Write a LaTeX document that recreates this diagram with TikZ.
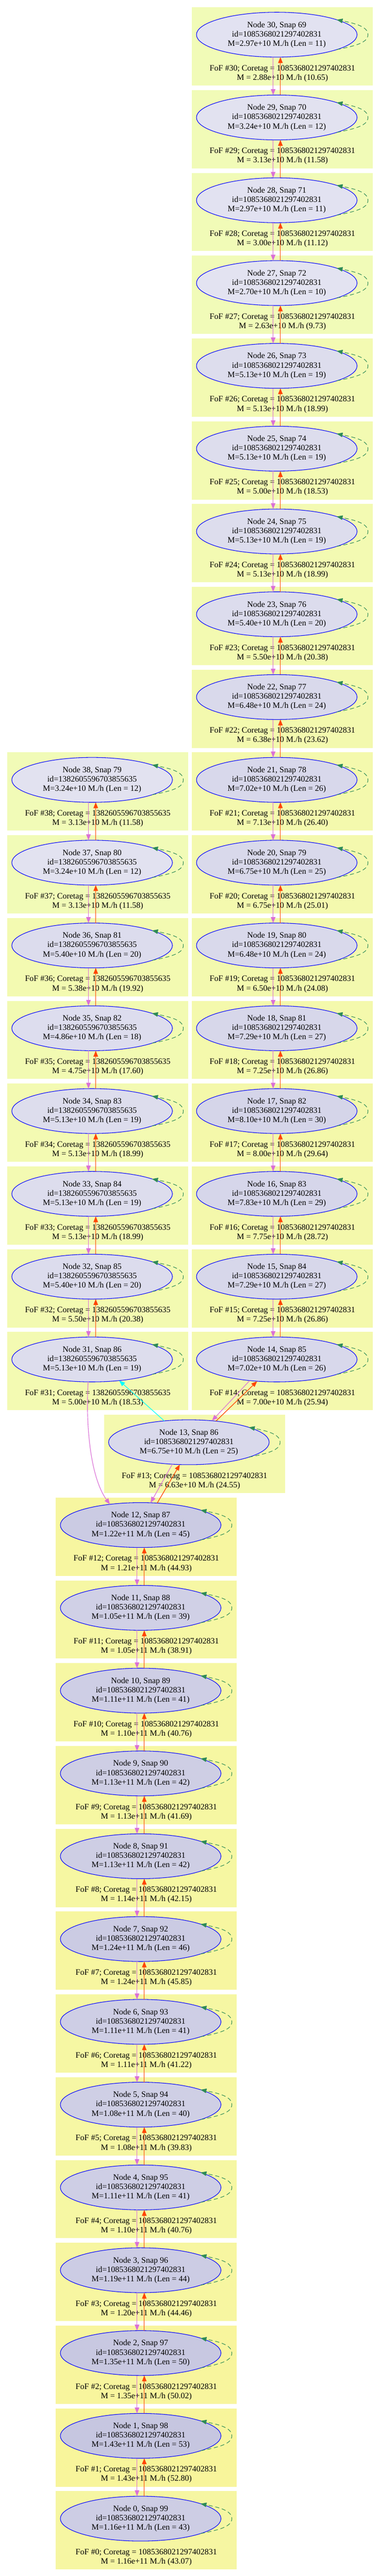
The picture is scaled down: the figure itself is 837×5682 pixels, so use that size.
\documentclass[tikz,border=0pt]{standalone}
\usepackage{fontspec}
\setmainfont{Liberation Serif}
\usetikzlibrary{arrows.meta,shapes.geometric,calc}
\definecolor{clusLow}{HTML}{F1FBB8}
\definecolor{clusHigh}{HTML}{F8F59B}
\definecolor{ellLow}{HTML}{E3E3F1}
\definecolor{ellHigh}{HTML}{C6C6E0}
\definecolor{vioC}{HTML}{DA70D6}
\definecolor{oraC}{HTML}{FF4500}
\definecolor{loopC}{HTML}{2E8B57}
\definecolor{cyanC}{HTML}{00FFFF}
\definecolor{blueC}{HTML}{0000FF}
\newcommand\idA{1085368021297402831}
\newcommand\idB{1382605596703855635}
\newcommand\halo[9]{%
  \pgfmathsetmacro\ctop{16+#3*182.63}%
  \pgfmathsetmacro\cbot{\ctop+172.6}%
  \pgfmathsetmacro\cright{#2+399}%
  \colorlet{cf}{clusLow!#4!clusHigh}%
  \colorlet{ef}{ellLow!#4!ellHigh}%
  \fill[cf] (#2,\ctop) rectangle (\cright,\cbot);
  \node[foflabel] (f#1) at (#2+199.5,\ctop+146) {FoF \##1; Coretag = #6\\M = #9};
  \node[haloell,fill=ef] (n#1) at (#2+187,\ctop+60.5) {Node #1, Snap #5\\id=#6\\M=#7 M./h (Len = #8)};
}
\newcommand\pairedge[2]{%
  \draw[vioedge] ([xshift=-8pt]n#1.south) -- ([xshift=-8pt]n#2.north);
  \draw[oraedge] ([xshift=8pt]n#2.north) -- ([xshift=8pt]n#1.south);
}
\newcommand\selfloop[1]{%
  \draw[loopedge] (n#1.-14) .. controls +(40,-8) and +(0,18) .. ([xshift=201pt]n#1.center)
    .. controls +(0,-18) and +(40,8) .. (n#1.14);
}
\tikzset{
  haloell/.style={ellipse,draw=blueC,line width=1.2pt,minimum width=354pt,minimum height=99pt,
    inner sep=0pt,outer sep=0pt,align=center,font=\fontsize{18.2}{20.6}\selectfont},
  foflabel/.style={align=center,inner sep=0pt,font=\fontsize{18.2}{20.6}\selectfont},
  tipst/.style={-{Triangle[length=13pt,width=10pt]}},
  vioedge/.style={draw=vioC,line width=1.3pt,tipst},
  oraedge/.style={draw=oraC,line width=1.4pt,tipst},
  cyanedge/.style={draw=cyanC,line width=1.3pt,tipst},
  loopedge/.style={draw=loopC,line width=1.2pt,dash pattern=on 9pt off 6pt,tipst},
}
\begin{document}
\begin{tikzpicture}[x=1pt,y=-1pt]
\useasboundingbox (0,0) rectangle (837,5682);
\fill[white] (0,0) rectangle (837,5682);
% right column
\halo{30}{423}{0}{98}{69}{\idA}{2.97e+10}{11}{2.88e+10 M./h (10.65)}
\halo{29}{423}{1}{95}{70}{\idA}{3.24e+10}{12}{3.13e+10 M./h (11.58)}
\halo{28}{423}{2}{98}{71}{\idA}{2.97e+10}{11}{3.00e+10 M./h (11.12)}
\halo{27}{423}{3}{100}{72}{\idA}{2.70e+10}{10}{2.63e+10 M./h (9.73)}
\halo{26}{423}{4}{79}{73}{\idA}{5.13e+10}{19}{5.13e+10 M./h (18.99)}
\halo{25}{423}{5}{79}{74}{\idA}{5.13e+10}{19}{5.00e+10 M./h (18.53)}
\halo{24}{423}{6}{79}{75}{\idA}{5.13e+10}{19}{5.13e+10 M./h (18.99)}
\halo{23}{423}{7}{77}{76}{\idA}{5.40e+10}{20}{5.50e+10 M./h (20.38)}
\halo{22}{423}{8}{67}{77}{\idA}{6.48e+10}{24}{6.38e+10 M./h (23.62)}
\halo{21}{423}{9}{63}{78}{\idA}{7.02e+10}{26}{7.13e+10 M./h (26.40)}
\halo{20}{423}{10}{65}{79}{\idA}{6.75e+10}{25}{6.75e+10 M./h (25.01)}
\halo{19}{423}{11}{67}{80}{\idA}{6.48e+10}{24}{6.50e+10 M./h (24.08)}
\halo{18}{423}{12}{60}{81}{\idA}{7.29e+10}{27}{7.25e+10 M./h (26.86)}
\halo{17}{423}{13}{53}{82}{\idA}{8.10e+10}{30}{8.00e+10 M./h (29.64)}
\halo{16}{423}{14}{56}{83}{\idA}{7.83e+10}{29}{7.75e+10 M./h (28.72)}
\halo{15}{423}{15}{60}{84}{\idA}{7.29e+10}{27}{7.25e+10 M./h (26.86)}
\halo{14}{423}{16}{63}{85}{\idA}{7.02e+10}{26}{7.00e+10 M./h (25.94)}
% left column
\halo{38}{16}{9}{95}{79}{\idB}{3.24e+10}{12}{3.13e+10 M./h (11.58)}
\halo{37}{16}{10}{95}{80}{\idB}{3.24e+10}{12}{3.13e+10 M./h (11.58)}
\halo{36}{16}{11}{77}{81}{\idB}{5.40e+10}{20}{5.38e+10 M./h (19.92)}
\halo{35}{16}{12}{81}{82}{\idB}{4.86e+10}{18}{4.75e+10 M./h (17.60)}
\halo{34}{16}{13}{79}{83}{\idB}{5.13e+10}{19}{5.13e+10 M./h (18.99)}
\halo{33}{16}{14}{79}{84}{\idB}{5.13e+10}{19}{5.13e+10 M./h (18.99)}
\halo{32}{16}{15}{77}{85}{\idB}{5.40e+10}{20}{5.50e+10 M./h (20.38)}
\halo{31}{16}{16}{79}{86}{\idB}{5.13e+10}{19}{5.00e+10 M./h (18.53)}
% merger node
\halo{13}{229.3}{17}{65}{86}{\idA}{6.75e+10}{25}{6.63e+10 M./h (24.55)}
% bottom column
\halo{12}{123}{18}{18}{87}{\idA}{1.22e+11}{45}{1.21e+11 M./h (44.93)}
\halo{11}{123}{19}{33}{88}{\idA}{1.05e+11}{39}{1.05e+11 M./h (38.91)}
\halo{10}{123}{20}{28}{89}{\idA}{1.11e+11}{41}{1.10e+11 M./h (40.76)}
\halo{9}{123}{21}{26}{90}{\idA}{1.13e+11}{42}{1.13e+11 M./h (41.69)}
\halo{8}{123}{22}{26}{91}{\idA}{1.13e+11}{42}{1.14e+11 M./h (42.15)}
\halo{7}{123}{23}{16}{92}{\idA}{1.24e+11}{46}{1.24e+11 M./h (45.85)}
\halo{6}{123}{24}{28}{93}{\idA}{1.11e+11}{41}{1.11e+11 M./h (41.22)}
\halo{5}{123}{25}{30}{94}{\idA}{1.08e+11}{40}{1.08e+11 M./h (39.83)}
\halo{4}{123}{26}{28}{95}{\idA}{1.11e+11}{41}{1.10e+11 M./h (40.76)}
\halo{3}{123}{27}{21}{96}{\idA}{1.19e+11}{44}{1.20e+11 M./h (44.46)}
\halo{2}{123}{28}{7}{97}{\idA}{1.35e+11}{50}{1.35e+11 M./h (50.02)}
\halo{1}{123}{29}{0}{98}{\idA}{1.43e+11}{53}{1.43e+11 M./h (52.80)}
\halo{0}{123}{30}{23}{99}{\idA}{1.16e+11}{43}{1.16e+11 M./h (43.07)}
% self loops
\foreach \k in {0,...,38} {\selfloop{\k}}
% vertical pairs
\foreach \a/\b in {30/29,29/28,28/27,27/26,26/25,25/24,24/23,23/22,22/21,21/20,20/19,19/18,18/17,17/16,16/15,15/14,
  38/37,37/36,36/35,35/34,34/33,33/32,32/31,
  12/11,11/10,10/9,9/8,8/7,7/6,6/5,5/4,4/3,3/2,2/1,1/0} {\pairedge{\a}{\b}}
% merger edges
\draw[vioedge] (n14.-142) -- (n13.43.5);
\draw[oraedge] (n13.38.6) -- (n14.-132);
\draw[vioedge] (n13.-127.4) -- (n12.66.4);
\draw[oraedge] (n12.53) -- (n13.-112.6);
\draw[cyanedge] (n13.139.5) -- (n31.-38.9);
\draw[vioedge] (n31.-100) .. controls +(-6,102) and +(-41.6,-57) .. (n12.146.3);
\end{tikzpicture}
\end{document}
